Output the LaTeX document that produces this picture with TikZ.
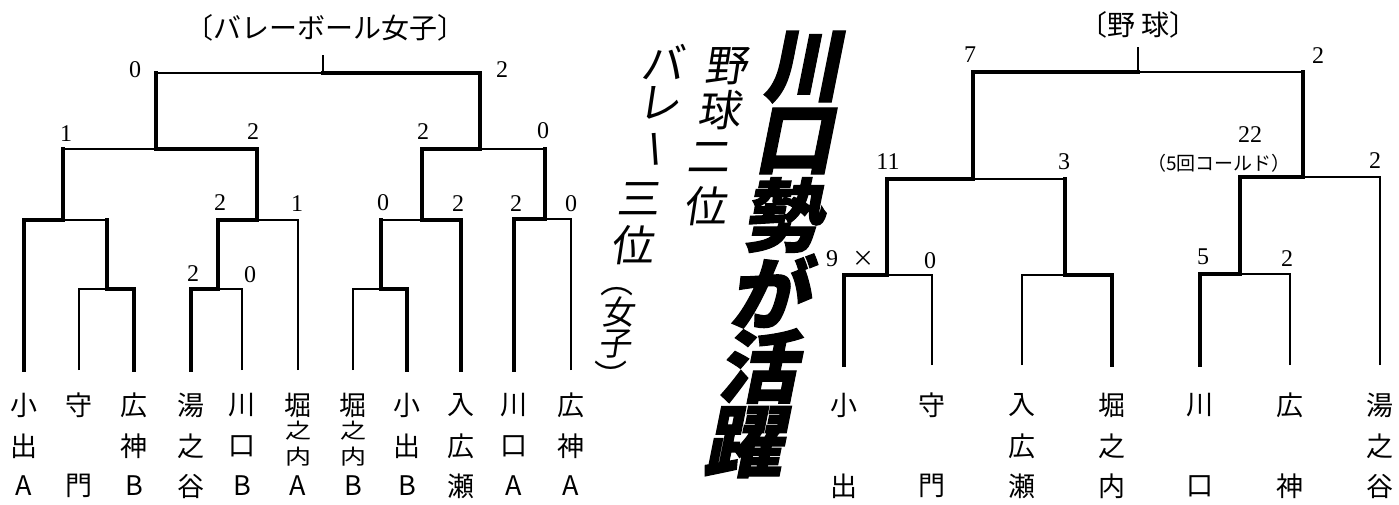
\documentclass[tikz,border=0pt]{standalone}
\usepackage{fontspec}
\usepackage{graphicx}
\newfontfamily\cjk{Noto Sans CJK JP}
\newfontfamily\cjkit[FakeSlant=0.15]{Noto Sans CJK JP}
\newfontfamily\heavy[FakeSlant=0.2,FakeBold=1.5]{Noto Sans CJK JP}
\newfontfamily\numfont{Liberation Serif}
\begin{document}
\begin{tikzpicture}[x=1pt,y=-1pt,
  thk/.style={line width=3.8pt,line cap=rect,line join=miter},
  thn/.style={line width=1.4pt},
  num/.style={font=\numfont\fontsize{24}{24}\selectfont,inner sep=0pt},
  lab/.style={font=\cjk\fontsize{27}{27}\selectfont,inner sep=0pt},
  labs/.style={font=\cjk\fontsize{26}{26}\selectfont,inner sep=0pt},
  ttl/.style={font=\cjk\fontsize{28}{28}\selectfont,inner sep=0pt},
  big/.style={font=\heavy\bfseries\fontsize{79}{79}\selectfont,inner sep=0pt},
  mid/.style={font=\cjkit\fontsize{43}{43}\selectfont,inner sep=0pt},
  sml/.style={font=\cjkit\fontsize{33}{33}\selectfont,inner sep=0pt},
]
\useasboundingbox (0,0) rectangle (1399,504);
\fill[white] (0,0) rectangle (1399,504);

% ---------------- left bracket (volleyball) ----------------
\foreach \n/\x in {1/24,2/79,3/134,4/191,5/242,6/298,7/353,8/407,9/461,10/514,11/571}
  \coordinate (L\n) at (\x,370);
\coordinate (a) at (107,289);
\coordinate (b) at (63,220);
\coordinate (c) at (218,289);
\coordinate (d) at (257,220);
\coordinate (e) at (156,149);
\coordinate (f) at (381,289);
\coordinate (g) at (422,220);
\coordinate (h) at (545,219);
\coordinate (i) at (480,149);
\coordinate (r) at (323,73);
\coordinate (rt) at (323,55);

\draw[thn] (L2) |- (a);
\draw[thn] (a |- b) -- (b);
\draw[thn] (b |- e) -- (e);
\draw[thn] (L5) |- (c);
\draw[thn] (L6) |- (d);
\draw[thn] (e |- r) -- (r);
\draw[thn] (L7) |- (f);
\draw[thn] (f |- g) -- (g);
\draw[thn] (h |- i) -- (i);
\draw[thn] (L11) |- (h);
\draw[thn] (r) -- (rt);
\draw[thk] (L3) |- (a) -- (a |- b);
\draw[thk] (L1) |- (b) -- (b |- e);
\draw[thk] (L4) |- (c) |- (d) |- (e) -- (e |- r);
\draw[thk] (L8) |- (f) -- (f |- g);
\draw[thk] (L9) |- (g) |- (i) |- (r);
\draw[thk] (L10) |- (h) -- (h |- i);

\node[ttl] (tv) at (325,28) {〔バレーボール女子〕};
\node[num] (v1) at (135,70) {0};
\node[num] (v2) at (502,70) {2};
\node[num] (v3) at (66,134) {1};
\node[num] (v4) at (253,132) {2};
\node[num] (v5) at (423,132) {2};
\node[num] (v6) at (543,131) {0};
\node[num] (v7) at (220,203) {2};
\node[num] (v8) at (297,204) {1};
\node[num] (v9) at (383,203) {0};
\node[num] (v10) at (458,204) {2};
\node[num] (v11) at (516,204) {2};
\node[num] (v12) at (571,204) {0};
\node[num] (v13) at (193,274) {2};
\node[num] (v14) at (250,275) {0};

\foreach \x/\p/\q/\s [count=\k] in {24/小/出/A,134/広/神/B,191/湯/之/谷,242/川/口/B,407/小/出/B,461/入/広/瀬,514/川/口/A,571/広/神/A}{
  \node[lab] (la\k) at (\x,405) {\p};
  \node[lab] (lb\k) at (\x,446) {\q};
  \node[lab] (lc\k) at (\x,486) {\s};
}
\node[lab] (ma1) at (79,405) {守};
\node[lab] (ma3) at (79,486) {門};
\node[lab] (na1) at (298,405) {堀};
\node[labs] (na2) at (298,431) {\scalebox{1}[0.8]{之}};
\node[labs] (na3) at (298,457) {\scalebox{1}[0.8]{内}};
\node[lab] (na4) at (298,486) {A};
\node[lab] (oa1) at (353,405) {堀};
\node[labs] (oa2) at (353,431) {\scalebox{1}[0.8]{之}};
\node[labs] (oa3) at (353,457) {\scalebox{1}[0.8]{内}};
\node[lab] (oa4) at (353,486) {B};

% ---------------- centre headline ----------------
\node[big] (h1) at (802,67) {川};
\node[big] (h2) at (793,141) {口};
\node[big] (h3) at (781,215) {勢};
\node[big] (h4) at (768,291) {が};
\node[big] (h5) at (757,366) {活};
\node[big] (h6) at (743,442) {躍};

\node[mid] (s1) at (726,66) {野};
\node[mid] (s2) at (719,110) {球};
\node[mid] (s3) at (708,158) {二};
\node[mid] (s4) at (705,206) {位};

\node[mid] (t1) at (662,62) {バ};
\node[mid] (t2) at (659,103) {レ};
\node[font=\cjk\fontsize{40}{40}\selectfont,inner sep=0pt,rotate=-86] (t3) at (649,150) {ー};
\node[mid] (t4) at (638,199) {三};
\node[mid] (t5) at (632,245) {位};
\node[font=\cjk\fontsize{33}{33}\selectfont,inner sep=0pt] (t6) at (617,292) {︵};
\node[sml] (t7) at (618,312) {女};
\node[sml] (t8) at (615,344) {子};
\node[font=\cjk\fontsize{33}{33}\selectfont,inner sep=0pt] (t9) at (611,375) {︶};

% ---------------- right bracket (baseball) ----------------
\foreach \n/\x in {1/844,2/932,3/1022,4/1112,5/1200,6/1290,7/1380}
  \coordinate (R\n) at (\x,365);
\coordinate (p) at (887,275);
\coordinate (q) at (1065,275);
\coordinate (s) at (973,179);
\coordinate (t) at (1240,274);
\coordinate (u) at (1303,177);
\coordinate (w) at (1138,72);
\coordinate (wt) at (1138,47);

\draw[thn] (R2) |- (p);
\draw[thn] (R3) |- (q);
\draw[thn] (q |- s) -- (s);
\draw[thn] (u |- w) -- (w);
\draw[thn] (R6) |- (t);
\draw[thn] (R7) |- (u);
\draw[thn] (w) -- (wt);
\draw[thk] (R1) |- (p) |- (s) |- (w);
\draw[thk] (R4) |- (q) -- (q |- s);
\draw[thk] (R5) |- (t) |- (u) -- (u |- w);

\node[ttl] (tb) at (1138,25) {〔野\hspace{6pt}球〕};
\node[num] (b1) at (970,55) {7};
\node[num] (b2) at (1318,56) {2};
\node[num] (b3) at (888,162) {11};
\node[num] (b4) at (1064,162) {3};
\node[num] (b5) at (1250,135) {22};
\node[font=\cjk\fontsize{19}{19}\selectfont,inner sep=0pt] (b6) at (1219,163) {（5回コールド）};
\node[num] (b7) at (1375,161) {2};
\node[num] (b8) at (832,259) {9};
\node[font=\cjk\fontsize{22}{22}\selectfont,inner sep=0pt] (b9) at (863,259) {×};
\node[num] (b10) at (930,261) {0};
\node[num] (b11) at (1203,257) {5};
\node[num] (b12) at (1287,259) {2};

\foreach \x/\p/\q/\s [count=\k] in {1022/入/広/瀬,1112/堀/之/内,1380/湯/之/谷}{
  \node[lab] (ra\k) at (\x,405) {\p};
  \node[lab] (rb\k) at (\x,446) {\q};
  \node[lab] (rc\k) at (\x,486) {\s};
}
\foreach \x/\p/\s [count=\k] in {844/小/出,932/守/門,1200/川/口,1290/広/神}{
  \node[lab] (rd\k) at (\x,405) {\p};
  \node[lab] (re\k) at (\x,486) {\s};
}
\end{tikzpicture}
\end{document}
